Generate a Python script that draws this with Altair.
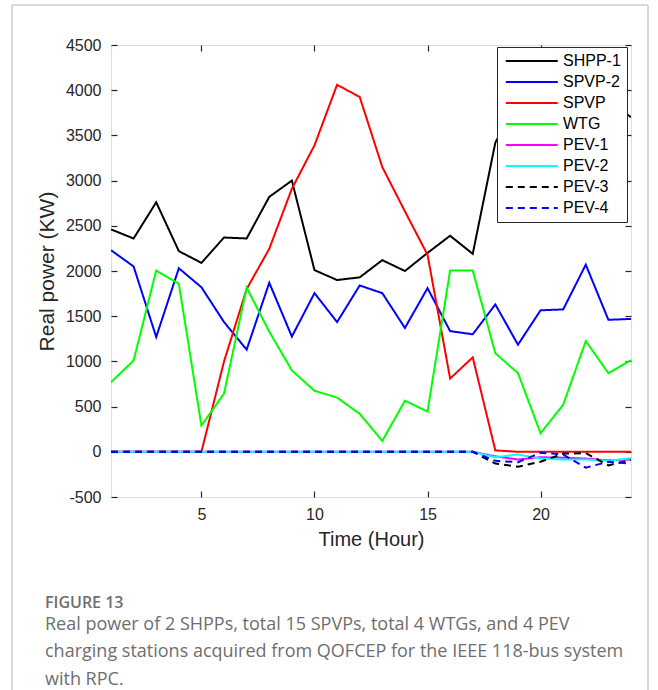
import altair as alt
import pandas as pd

hours = list(range(1, 25))
series_names = ["SHPP-1", "SPVP-2", "SPVP", "WTG", "PEV-1", "PEV-2", "PEV-3", "PEV-4"]
series_colors = ["#000000", "#0000ff", "#ff0000", "#00ff00", "#ff00ff", "#00ffff", "#000000", "#0000ff"]

shpp1 = [2460, 2360, 2760, 2220, 2090, 2370, 2360, 2820, 3000, 2010, 1900, 1930,
         2120, 2000, 2200, 2390, 2190, 3420, 3900, 4100, 3800, 4000, 3900, 3700]
spvp2 = [2230, 2050, 1270, 2030, 1820, 1435, 1130, 1870, 1275, 1755, 1435, 1840,
         1755, 1370, 1810, 1335, 1300, 1630, 1185, 1565, 1575, 2070, 1460, 1470]
spvp = [0, 0, 0, 0, 0, 1000, 1800, 2245, 2910, 3390, 4060, 3925,
        3150, 2660, 2180, 810, 1045, 15, 0, 0, 0, 0, 0, 0]
wtg = [770, 1010, 2005, 1860, 290, 645, 1815, 1330, 900, 675, 600, 420,
       120, 565, 445, 2005, 2005, 1090, 870, 205, 520, 1225, 870, 1015]
pev1 = [0] * 17 + [-50, -85, -60, -65, -75, -95, -85]
pev2 = [0] * 17 + [-60, -30, -75, -85, -85, -100, -70]
pev3 = [0] * 17 + [-130, -165, -110, -20, -15, -150, -90]
pev4 = [0] * 17 + [-100, -115, -10, -30, -175, -110, -130]

x_ticks = [5, 10, 15, 20]
y_ticks = list(range(-500, 4501, 500))

all_series = [shpp1, spvp2, spvp, wtg, pev1, pev2, pev3, pev4]
rows = []
for name, vals in zip(series_names, all_series):
    for h, v in zip(hours, vals):
        rows.append({"hour": h, "power": v, "series": name})
df = pd.DataFrame(rows)

AX = "#262626"
FONT = "Liberation Sans"

xscale = alt.Scale(domain=[1, 24], nice=False, zero=False)
yscale = alt.Scale(domain=[-500, 4500], nice=False, zero=False)


def make_legend():
    return alt.Legend(title=None, orient="none", legendX=386, legendY=2,
                      fillColor="white", strokeColor=AX, padding=6,
                      symbolType="M-1,0H9", symbolSize=108,
                      symbolStrokeWidth=2, labelFontSize=16,
                      labelFont=FONT, labelColor="#000000",
                      labelOffset=44, rowPadding=5)


lines = alt.Chart(df).mark_line(strokeWidth=2, clip=True).encode(
    x=alt.X("hour:Q", scale=xscale,
            axis=alt.Axis(values=x_ticks, tickSize=0, domain=False, grid=False,
                          labelFontSize=16, labelPadding=9, labelColor=AX, labelFont=FONT,
                          title="Time (Hour)", titleFontSize=20, titleFont=FONT,
                          titleFontWeight="normal", titleColor=AX, titlePadding=7)),
    y=alt.Y("power:Q", scale=yscale,
            axis=alt.Axis(values=y_ticks, labelExpr="'' + datum.value", tickSize=0,
                          domain=False, grid=False,
                          labelFontSize=16, labelPadding=10, labelColor=AX, labelFont=FONT,
                          title="Real power (KW)", titleFontSize=21, titleFont=FONT,
                          titleFontWeight="normal", titleColor=AX, titlePadding=8)),
    color=alt.Color("series:N", scale=alt.Scale(domain=series_names, range=series_colors),
                    sort=series_names, legend=make_legend()),
    strokeDash=alt.StrokeDash("series:N",
                              scale=alt.Scale(domain=series_names,
                                              range=[[1, 0]] * 6 + [[7, 5], [7, 5]]),
                              sort=series_names, legend=make_legend()),
    order=alt.Order("hour:Q"),
)

tick_axis = dict(labels=False, domain=False, grid=False, title=None, tickSize=6,
                 tickColor=AX, tickWidth=1.2, offset=-6)

inner_bl = alt.Chart(df).mark_point(opacity=0).encode(
    x=alt.X("hour:Q", scale=xscale, axis=alt.Axis(orient="bottom", values=x_ticks, **tick_axis)),
    y=alt.Y("power:Q", scale=yscale, axis=alt.Axis(orient="left", values=y_ticks, **tick_axis)),
)
inner_tr = alt.Chart(df).mark_point(opacity=0).encode(
    x=alt.X("hour:Q", scale=xscale, axis=alt.Axis(orient="top", values=x_ticks, **tick_axis)),
    y=alt.Y("power:Q", scale=yscale, axis=alt.Axis(orient="right", values=y_ticks, **tick_axis)),
)

# light grey outline of the figure panel (decoration, pixel offsets from plot origin)
BORDER = "#d8d8d8"
border_left = alt.Chart(df).mark_rule(color=BORDER, strokeWidth=1).encode(
    x=alt.value(-99), y=alt.value(-40), y2=alt.value(650))
border_right = alt.Chart(df).mark_rule(color=BORDER, strokeWidth=1).encode(
    x=alt.value(537), y=alt.value(-40), y2=alt.value(650))
border_top = alt.Chart(df).mark_rule(color=BORDER, strokeWidth=1).encode(
    x=alt.value(-99), x2=alt.value(537), y=alt.value(-40))

chart = alt.layer(border_left, border_right, border_top, inner_bl, inner_tr, lines).resolve_axis(
    x="independent", y="independent"
).properties(
    width=520,
    height=452,
    autosize=alt.AutoSizeParams(type="none"),
    padding={"left": 111, "top": 45, "right": 27, "bottom": 193},
    title=alt.TitleParams(
        text="FIGURE 13",
        subtitle=["Real power of 2 SHPPs, total 15 SPVPs, total 4 WTGs, and 4 PEV",
                  "charging stations acquired from QOFCEP for the IEEE 118-bus system",
                  "with RPC."],
        orient="bottom", anchor="start", frame="group", dx=-66, offset=-101,
        font="Open Sans", fontSize=16, fontWeight=600, color="#6e6e6e",
        subtitleFont="Open Sans", subtitleFontSize=18, subtitleColor="#6e6e6e",
        subtitleLineHeight=27.5, subtitlePadding=5,
    ),
).configure_view(
    stroke=AX, strokeWidth=1.5
).configure(background="white")

chart.save("out.html", embed_options={"renderer": "svg", "actions": False})
